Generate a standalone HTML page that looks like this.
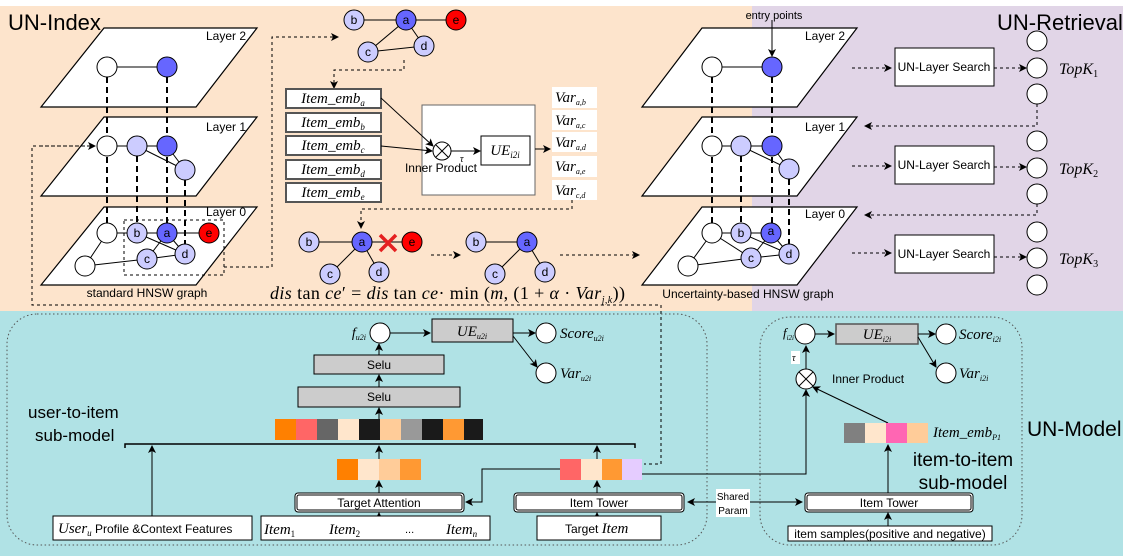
<!DOCTYPE html>
<html><head><meta charset="utf-8"><style>
html,body{margin:0;padding:0;background:#fff;}
svg{display:block;}
text{font-family:"Liberation Sans",sans-serif;}
text.m,.m text,.m tspan,text.m tspan,tspan.m{font-family:"Liberation Serif",serif;font-style:italic;}
text.serif,text.serif tspan{font-family:"Liberation Serif",serif;}
tspan.n{font-style:normal;}
</style></head><body>
<svg width="1123" height="556" viewBox="0 0 1123 556" xmlns="http://www.w3.org/2000/svg">
<defs>
<marker id="ar" markerWidth="8" markerHeight="8" refX="7" refY="4" orient="auto" markerUnits="userSpaceOnUse"><path d="M0,0 L8,4 L0,8 L2,4 z" fill="#000"/></marker>
</defs>
<rect x="0" y="6" width="752" height="305" fill="#FDE4CC"/>
<rect x="752" y="6" width="371" height="305" fill="#E1D5E7"/>
<rect x="0" y="311" width="1123" height="245" fill="#B0E2E5"/>

<text x="8" y="30" font-size="22">UN-Index</text>
<text x="997" y="30" font-size="22">UN-Retrieval</text>

<g stroke="#000" stroke-width="1.2" fill="#fff">
<polygon points="104,28 257,28 196,107 41,107"/>
<polygon points="104,117 257,117 196,196 41,196"/>
<polygon points="104,207 257,207 196,285 41,285"/>
</g>
<g stroke="#000" stroke-width="2" stroke-dasharray="6,4">
<line x1="107" y1="77" x2="107" y2="224"/>
<line x1="167" y1="77" x2="167" y2="224"/>
<line x1="137" y1="156" x2="137" y2="224"/>
<line x1="185" y1="180" x2="185" y2="245"/>
</g>
<g stroke="#000" stroke-width="1">
<line x1="107" y1="67" x2="167" y2="67"/>
<line x1="107" y1="146" x2="167" y2="146"/>
<line x1="137" y1="146" x2="185" y2="170"/>
<line x1="167" y1="146" x2="185" y2="170"/>
<line x1="107" y1="233" x2="209" y2="233"/>
<line x1="107" y1="233" x2="85" y2="266"/>
<line x1="85" y1="266" x2="147" y2="259"/>
<line x1="147" y1="259" x2="185" y2="254"/>
<line x1="137" y1="233" x2="185" y2="254"/>
<line x1="167" y1="233" x2="147" y2="259"/>
<line x1="167" y1="233" x2="185" y2="254"/>
</g>
<rect x="124" y="220" width="100" height="55" fill="none" stroke="#000" stroke-dasharray="3,3"/>
<g stroke="#000" stroke-width="1">
<circle cx="107" cy="67" r="10" fill="#fff"/><circle cx="167" cy="67" r="10" fill="#6666FF"/>
<circle cx="107" cy="146" r="10" fill="#fff"/><circle cx="137" cy="146" r="10" fill="#CCCCFF"/><circle cx="167" cy="146" r="10" fill="#6666FF"/><circle cx="185" cy="170" r="10" fill="#CCCCFF"/>
<circle cx="107" cy="233" r="10" fill="#fff"/><circle cx="85" cy="266" r="10" fill="#fff"/>
<circle cx="137" cy="233" r="10" fill="#CCCCFF"/><circle cx="167" cy="233" r="10" fill="#6666FF"/><circle cx="209" cy="233" r="10" fill="#FF0000"/>
<circle cx="147" cy="259" r="10" fill="#CCCCFF"/><circle cx="185" cy="254" r="10" fill="#CCCCFF"/>
</g>
<g font-size="12" text-anchor="middle" dominant-baseline="central">
<text x="137" y="233">b</text><text x="167" y="233">a</text><text x="209" y="233">e</text><text x="147" y="259">c</text><text x="185" y="254">d</text>
</g>
<g font-size="12" text-anchor="end"><text x="246" y="40">Layer 2</text><text x="246" y="131">Layer 1</text><text x="246" y="216">Layer 0</text></g>
<text x="147" y="297" font-size="12" text-anchor="middle">standard HNSW graph</text>

<polyline points="224,267 272,267 272,37 338,37" fill="none" stroke="#000" stroke-dasharray="3,3" marker-end="url(#ar)"/>
<polyline points="90,146 32,146 32,305 661,305 661,464 644,464" fill="none" stroke="#000" stroke-dasharray="3,3"/>
<line x1="40" y1="146" x2="95" y2="146" stroke="#000" stroke-dasharray="3,3" marker-end="url(#ar)"/>

<g stroke="#000" stroke-width="1">
<line x1="354" y1="20" x2="456" y2="20"/><line x1="406" y1="20" x2="368" y2="52"/><line x1="406" y1="20" x2="424" y2="46"/><line x1="368" y1="52" x2="424" y2="46"/>
<circle cx="354" cy="20" r="10" fill="#CCCCFF"/><circle cx="406" cy="20" r="10" fill="#6666FF"/><circle cx="456" cy="20" r="10" fill="#FF0000"/><circle cx="368" cy="52" r="10" fill="#CCCCFF"/><circle cx="424" cy="46" r="10" fill="#CCCCFF"/>
</g>
<g font-size="12" text-anchor="middle" dominant-baseline="central">
<text x="354" y="20">b</text><text x="406" y="20">a</text><text x="456" y="20">e</text><text x="368" y="52">c</text><text x="424" y="46">d</text>
</g>
<polyline points="404,60 404,70 334,70 334,88" fill="none" stroke="#000" stroke-dasharray="3,3" marker-end="url(#ar)"/>

<g fill="#fff" stroke="#555" stroke-width="2">
<rect x="286" y="89" width="95" height="19"/><rect x="286" y="113" width="95" height="19"/><rect x="286" y="136" width="95" height="19"/><rect x="286" y="160" width="95" height="19"/><rect x="286" y="183" width="95" height="19"/>
</g>
<g class="m" font-size="15" text-anchor="middle">
<text x="333" y="103">Item_emb<tspan font-size="9" dy="3">a</tspan></text>
<text x="333" y="127">Item_emb<tspan font-size="9" dy="3">b</tspan></text>
<text x="333" y="150">Item_emb<tspan font-size="9" dy="3">c</tspan></text>
<text x="333" y="174">Item_emb<tspan font-size="9" dy="3">d</tspan></text>
<text x="333" y="197">Item_emb<tspan font-size="9" dy="3">e</tspan></text>
</g>
<rect x="422" y="105" width="113" height="90" fill="#fff" stroke="#666"/>
<line x1="381" y1="98" x2="433" y2="146" stroke="#000" marker-end="url(#ar)"/>
<line x1="381" y1="146" x2="432" y2="151" stroke="#000" marker-end="url(#ar)"/>
<circle cx="442" cy="151" r="9" fill="#fff" stroke="#000"/>
<line x1="436" y1="145" x2="448" y2="157" stroke="#000"/><line x1="448" y1="145" x2="436" y2="157" stroke="#000"/>
<line x1="451" y1="151" x2="480" y2="151" stroke="#000" marker-end="url(#ar)"/>
<text x="460" y="162" class="m" font-size="10">τ</text>
<text x="441" y="172" font-size="12" text-anchor="middle">Inner Product</text>
<rect x="481" y="136" width="49" height="29" fill="#fff" stroke="#000"/>
<text x="505" y="155" class="m" font-size="15" text-anchor="middle">UE<tspan font-size="9" dy="3">i2i</tspan></text>
<line x1="535" y1="149" x2="550" y2="149" stroke="#000" marker-end="url(#ar)"/>
<g fill="#fff"><rect x="552" y="87" width="45" height="21"/><rect x="552" y="110" width="45" height="20"/><rect x="552" y="132" width="45" height="20"/><rect x="552" y="156" width="45" height="21"/><rect x="552" y="180" width="45" height="20"/></g>
<g class="m" font-size="15">
<text x="555" y="102">Var<tspan font-size="8" dy="3">a,b</tspan></text>
<text x="555" y="125">Var<tspan font-size="8" dy="3">a,c</tspan></text>
<text x="555" y="147">Var<tspan font-size="8" dy="3">a,d</tspan></text>
<text x="555" y="171">Var<tspan font-size="8" dy="3">a,e</tspan></text>
<text x="555" y="195">Var<tspan font-size="8" dy="3">c,d</tspan></text>
</g>
<polyline points="572,200 572,209 361,209 361,228" fill="none" stroke="#000" stroke-dasharray="3,3" marker-end="url(#ar)"/>

<g stroke="#000" stroke-width="1">
<line x1="309" y1="242" x2="412" y2="242"/><line x1="362" y1="242" x2="330" y2="274"/><line x1="362" y1="242" x2="379" y2="272"/>
<circle cx="309" cy="242" r="10" fill="#CCCCFF"/><circle cx="362" cy="242" r="10" fill="#6666FF"/><circle cx="412" cy="242" r="10" fill="#FF0000"/><circle cx="330" cy="274" r="10" fill="#CCCCFF"/><circle cx="379" cy="272" r="10" fill="#CCCCFF"/>
<line x1="476" y1="242" x2="527" y2="242"/><line x1="527" y1="242" x2="495" y2="274"/><line x1="527" y1="242" x2="545" y2="272"/>
<circle cx="476" cy="242" r="10" fill="#CCCCFF"/><circle cx="527" cy="242" r="10" fill="#6666FF"/><circle cx="495" cy="274" r="10" fill="#CCCCFF"/><circle cx="545" cy="272" r="10" fill="#CCCCFF"/>
</g>
<g stroke="#E52020" stroke-width="3.5"><line x1="380" y1="235" x2="396" y2="251"/><line x1="396" y1="235" x2="380" y2="251"/></g>
<g font-size="12" text-anchor="middle" dominant-baseline="central">
<text x="309" y="242">b</text><text x="362" y="242">a</text><text x="412" y="242">e</text><text x="330" y="274">c</text><text x="379" y="272">d</text>
<text x="476" y="242">b</text><text x="527" y="242">a</text><text x="495" y="274">c</text><text x="545" y="272">d</text>
</g>
<line x1="431" y1="255" x2="460" y2="255" stroke="#000" stroke-dasharray="3,3" marker-end="url(#ar)"/>
<line x1="560" y1="255" x2="639" y2="255" stroke="#000" stroke-dasharray="3,3" marker-end="url(#ar)"/>
<text x="270" y="299" font-size="18" class="serif" textLength="355"><tspan font-style="italic">dis</tspan> tan <tspan font-style="italic">ce</tspan>′ = <tspan font-style="italic">dis</tspan> tan <tspan font-style="italic">ce</tspan>· min (<tspan font-style="italic">m</tspan>, (1 + <tspan font-style="italic">α</tspan> · <tspan font-style="italic">Var</tspan><tspan font-size="10" dy="4" font-style="italic">j,k</tspan><tspan dy="-4">))</tspan></text>

<g stroke="#000" stroke-width="1.2" fill="#fff">
<polygon points="702,28 857,28 797,107 642,107"/>
<polygon points="702,117 857,117 797,196 642,196"/>
<polygon points="702,207 857,207 797,285 642,285"/>
</g>
<g stroke="#000" stroke-width="2" stroke-dasharray="6,4">
<line x1="712" y1="77" x2="712" y2="223"/>
<line x1="772" y1="77" x2="772" y2="223"/>
<line x1="741" y1="156" x2="741" y2="223"/>
<line x1="789" y1="179" x2="789" y2="244"/>
</g>
<g stroke="#000" stroke-width="1">
<line x1="712" y1="67" x2="772" y2="67"/>
<line x1="712" y1="146" x2="772" y2="146"/>
<line x1="741" y1="146" x2="789" y2="169"/><line x1="772" y1="146" x2="789" y2="169"/>
<line x1="712" y1="233" x2="771" y2="233"/>
<line x1="712" y1="233" x2="688" y2="266"/><line x1="688" y1="266" x2="751" y2="258"/><line x1="751" y1="258" x2="789" y2="254"/>
<line x1="712" y1="233" x2="751" y2="258"/><line x1="741" y1="233" x2="789" y2="254"/><line x1="771" y1="233" x2="751" y2="258"/><line x1="771" y1="233" x2="789" y2="254"/>
<circle cx="712" cy="67" r="10" fill="#fff"/><circle cx="772" cy="67" r="10" fill="#6666FF"/>
<circle cx="712" cy="146" r="10" fill="#fff"/><circle cx="741" cy="146" r="10" fill="#CCCCFF"/><circle cx="772" cy="146" r="10" fill="#6666FF"/><circle cx="789" cy="169" r="10" fill="#CCCCFF"/>
<circle cx="712" cy="233" r="10" fill="#fff"/><circle cx="688" cy="266" r="10" fill="#fff"/>
<circle cx="741" cy="233" r="10" fill="#CCCCFF"/><circle cx="771" cy="233" r="10" fill="#6666FF"/><circle cx="751" cy="258" r="10" fill="#CCCCFF"/><circle cx="789" cy="254" r="10" fill="#CCCCFF"/>
</g>
<g font-size="12" text-anchor="middle" dominant-baseline="central">
<text x="741" y="233">b</text><text x="771" y="231">a</text><text x="751" y="258">c</text><text x="789" y="254">d</text>
</g>
<g font-size="12" text-anchor="end"><text x="845" y="40">Layer 2</text><text x="845" y="131">Layer 1</text><text x="845" y="218">Layer 0</text></g>
<text x="774" y="19" font-size="11" text-anchor="middle">entry points</text>
<line x1="772" y1="20" x2="772" y2="56" stroke="#000" marker-end="url(#ar)"/>
<text x="748" y="298" font-size="12" text-anchor="middle">Uncertainty-based HNSW graph</text>

<g fill="#fff" stroke="#000"><rect x="895" y="48" width="99" height="38"/><rect x="895" y="146" width="99" height="38"/><rect x="895" y="235" width="99" height="38"/></g>
<g font-size="12" text-anchor="middle"><text x="944" y="71">UN-Layer Search</text><text x="944" y="169">UN-Layer Search</text><text x="944" y="258">UN-Layer Search</text></g>
<g stroke="#000" stroke-dasharray="3,3" fill="none">
<line x1="852" y1="68" x2="891" y2="68" marker-end="url(#ar)"/>
<line x1="852" y1="166" x2="891" y2="166" marker-end="url(#ar)"/>
<line x1="852" y1="253" x2="891" y2="253" marker-end="url(#ar)"/>
<line x1="994" y1="68" x2="1026" y2="68" marker-end="url(#ar)"/>
<line x1="994" y1="167" x2="1026" y2="167" marker-end="url(#ar)"/>
<line x1="994" y1="257" x2="1026" y2="257" marker-end="url(#ar)"/>
<polyline points="1037,104 1037,126 865,126" marker-end="url(#ar)"/>
<polyline points="1037,204 1037,215 865,215" marker-end="url(#ar)"/>
</g>
<g fill="#fff" stroke="#000">
<circle cx="1037" cy="41" r="10"/><circle cx="1037" cy="68" r="10"/><circle cx="1037" cy="94" r="10"/>
<circle cx="1037" cy="141" r="10"/><circle cx="1037" cy="168" r="10"/><circle cx="1037" cy="194" r="10"/>
<circle cx="1037" cy="232" r="10"/><circle cx="1037" cy="258" r="10"/><circle cx="1037" cy="285" r="10"/>
</g>
<g class="m" font-size="16"><text x="1059" y="74">TopK<tspan class="n" font-size="10" dy="3">1</tspan></text><text x="1059" y="174">TopK<tspan class="n" font-size="10" dy="3">2</tspan></text><text x="1059" y="264">TopK<tspan class="n" font-size="10" dy="3">3</tspan></text></g>

<rect x="7" y="314" width="700" height="231" rx="30" fill="none" stroke="#555" stroke-dasharray="1.5,2.5"/>
<rect x="760" y="317" width="262" height="228" rx="30" fill="none" stroke="#555" stroke-dasharray="1.5,2.5"/>
<text x="1027" y="436" font-size="21">UN-Model</text>
<text x="28" y="418" font-size="17">user-to-item</text>
<text x="35" y="441" font-size="17">sub-model</text>
<text x="963" y="466" font-size="19" text-anchor="middle">item-to-item</text>
<text x="963" y="489" font-size="19" text-anchor="middle">sub-model</text>

<circle cx="380" cy="333" r="10" fill="#fff" stroke="#000"/>
<text x="366" y="337" class="m" font-size="14" text-anchor="end">f<tspan font-size="8" dy="3">u2i</tspan></text>
<rect x="432" y="319" width="81" height="23" fill="#ccc" stroke="#000"/>
<text x="472" y="336" class="m" font-size="15" text-anchor="middle">UE<tspan font-size="8" dy="3">u2i</tspan></text>
<line x1="390" y1="333" x2="430" y2="333" stroke="#000" marker-end="url(#ar)"/>
<line x1="513" y1="333" x2="535" y2="333" stroke="#000" marker-end="url(#ar)"/>
<line x1="513" y1="336" x2="537" y2="367" stroke="#000" marker-end="url(#ar)"/>
<circle cx="546" cy="333" r="10" fill="#fff" stroke="#000"/><circle cx="546" cy="373" r="10" fill="#fff" stroke="#000"/>
<text x="560" y="338" class="m" font-size="15">Score<tspan font-size="8" dy="3">u2i</tspan></text>
<text x="560" y="378" class="m" font-size="15">Var<tspan font-size="8" dy="3">u2i</tspan></text>
<rect x="314" y="355" width="130" height="19" fill="#ccc" stroke="#000"/><text x="379" y="369" font-size="12" text-anchor="middle">Selu</text>
<rect x="298" y="387" width="162" height="20" fill="#ccc" stroke="#000"/><text x="379" y="401" font-size="12" text-anchor="middle">Selu</text>
<g stroke="#000" marker-end="url(#ar)">
<line x1="379" y1="355" x2="379" y2="344"/><line x1="379" y1="387" x2="379" y2="375"/><line x1="379" y1="419" x2="379" y2="408"/>
<line x1="379" y1="459" x2="379" y2="446"/><line x1="597" y1="459" x2="597" y2="446"/><line x1="152" y1="516" x2="152" y2="446"/>
<line x1="379" y1="493" x2="379" y2="481"/><line x1="597" y1="493" x2="597" y2="481"/>
<line x1="379" y1="516" x2="379" y2="513"/><line x1="597" y1="516" x2="597" y2="513"/>
<line x1="888" y1="493" x2="888" y2="445"/><line x1="888" y1="526" x2="888" y2="513"/>
</g>
<g>
<rect x="275" y="419" width="21" height="21" fill="#FF8000"/><rect x="296" y="419" width="21" height="21" fill="#FF6666"/><rect x="317" y="419" width="21" height="21" fill="#666"/><rect x="338" y="419" width="21" height="21" fill="#FFE6CC"/><rect x="359" y="419" width="21" height="21" fill="#1A1A1A"/><rect x="380" y="419" width="21" height="21" fill="#FFCC99"/><rect x="401" y="419" width="21" height="21" fill="#999"/><rect x="422" y="419" width="21" height="21" fill="#1A1A1A"/><rect x="443" y="419" width="21" height="21" fill="#FF9933"/><rect x="464" y="419" width="19" height="21" fill="#1A1A1A"/>
</g>
<path d="M125,448 L125,444 L635,444 L635,448" fill="none" stroke="#000" stroke-width="1.5"/>
<rect x="337" y="459" width="21" height="21" fill="#FF8000"/><rect x="358" y="459" width="21" height="21" fill="#FFE6CC"/><rect x="379" y="459" width="21" height="21" fill="#FFCC99"/><rect x="400" y="459" width="21" height="21" fill="#FF9933"/>
<rect x="560" y="459" width="21" height="21" fill="#FF6666"/><rect x="581" y="459" width="21" height="21" fill="#FFE6CC"/><rect x="602" y="459" width="20" height="21" fill="#FF9933"/><rect x="622" y="459" width="20" height="21" fill="#E5CCFF"/>
<polyline points="560,469 482,469 482,502 466,502" fill="none" stroke="#000" marker-end="url(#ar)"/>
<polyline points="642,474 806,474 806,390" fill="none" stroke="#000" marker-end="url(#ar)"/>
<g fill="#fff" stroke="#000">
<rect x="295" y="493" width="169" height="19" rx="3"/><rect x="297" y="495" width="165" height="15" rx="2"/>
<rect x="514" y="493" width="170" height="19" rx="3"/><rect x="516" y="495" width="166" height="15" rx="2"/>
<rect x="805" y="493" width="168" height="19" rx="3"/><rect x="807" y="495" width="164" height="15" rx="2"/>
<rect x="53" y="516" width="199" height="24"/><rect x="261" y="516" width="229" height="24"/><rect x="537" y="516" width="124" height="24"/>
<rect x="788" y="526" width="204" height="15"/>
</g>
<text x="379" y="507" font-size="12" text-anchor="middle">Target Attention</text>
<text x="599" y="507" font-size="12" text-anchor="middle">Item Tower</text>
<text x="889" y="507" font-size="12" text-anchor="middle">Item Tower</text>
<text x="890" y="538" font-size="12" text-anchor="middle">item samples(positive and negative)</text>
<text x="58" y="533" font-size="12"><tspan class="m" font-size="15">User</tspan><tspan class="m" font-size="9" dy="3">u</tspan><tspan dy="-3"> Profile &amp;Context Features</tspan></text>
<g class="m" font-size="15"><text x="264" y="534">Item<tspan class="n" font-size="9" dy="3">1</tspan></text><text x="329" y="534">Item<tspan class="n" font-size="9" dy="3">2</tspan></text><text x="446" y="534">Item<tspan font-size="9" dy="3">n</tspan></text></g>
<text x="405" y="533" font-size="11">...</text>
<text x="565" y="533" font-size="12">Target <tspan class="m" font-size="15">Item</tspan></text>
<line x1="720" y1="502" x2="688" y2="502" stroke="#000" marker-end="url(#ar)"/>
<line x1="746" y1="502" x2="802" y2="502" stroke="#000" marker-end="url(#ar)"/>
<rect x="716" y="489" width="34" height="28" fill="#fff"/>
<text x="733" y="500" font-size="10" text-anchor="middle">Shared</text><text x="733" y="514" font-size="10" text-anchor="middle">Param</text>

<circle cx="805" cy="334" r="10" fill="#fff" stroke="#000"/>
<text x="794" y="337" class="m" font-size="13" text-anchor="end">f<tspan font-size="7" dy="3">i2i</tspan></text>
<rect x="836" y="324" width="82" height="20" fill="#ccc" stroke="#555" stroke-width="1.5"/>
<text x="877" y="339" class="m" font-size="15" text-anchor="middle">UE<tspan font-size="8" dy="3">i2i</tspan></text>
<line x1="815" y1="334" x2="834" y2="334" stroke="#000" marker-end="url(#ar)"/>
<line x1="918" y1="334" x2="935" y2="334" stroke="#000" marker-end="url(#ar)"/>
<line x1="918" y1="337" x2="936" y2="367" stroke="#000" marker-end="url(#ar)"/>
<circle cx="946" cy="334" r="10" fill="#fff" stroke="#000"/><circle cx="946" cy="373" r="10" fill="#fff" stroke="#000"/>
<text x="959" y="339" class="m" font-size="15">Score<tspan font-size="8" dy="3">i2i</tspan></text>
<text x="959" y="378" class="m" font-size="15">Var<tspan font-size="8" dy="3">i2i</tspan></text>
<line x1="806" y1="369" x2="806" y2="346" stroke="#000" marker-end="url(#ar)"/>
<rect x="791" y="351" width="9" height="13" fill="#fff"/><text x="792" y="361" class="m" font-size="10">τ</text>
<circle cx="806" cy="379" r="10" fill="#fff" stroke="#000"/>
<line x1="799" y1="372" x2="813" y2="386" stroke="#000"/><line x1="813" y1="372" x2="799" y2="386" stroke="#000"/>
<text x="832" y="383" font-size="12">Inner Product</text>
<line x1="888" y1="423" x2="813" y2="387" stroke="#000" marker-end="url(#ar)"/>
<rect x="844" y="423" width="21" height="20" fill="#808080"/><rect x="865" y="423" width="21" height="20" fill="#FFE6CC"/><rect x="886" y="423" width="21" height="20" fill="#FF66B3"/><rect x="907" y="423" width="21" height="20" fill="#FFCC99"/>
<text x="933" y="437" class="m" font-size="15">Item_emb<tspan font-size="8" dy="3">P1</tspan></text>
</svg>
</body></html>
